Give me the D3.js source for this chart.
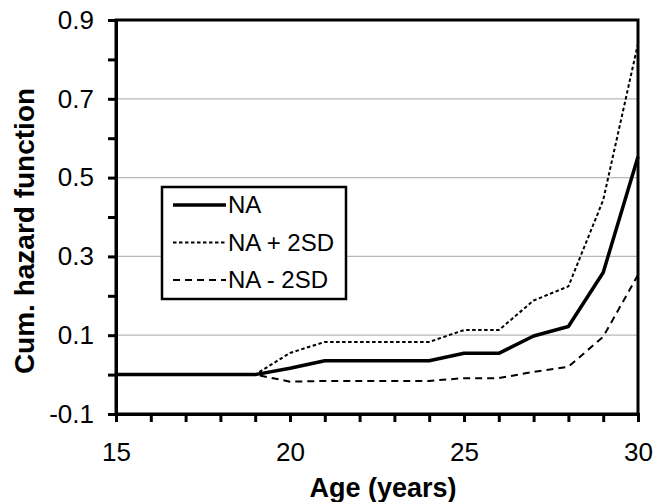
<!DOCTYPE html>
<html>
<head>
<meta charset="utf-8">
<script src="https://cdn.jsdelivr.net/npm/d3@7"></script>
<style>
  body { margin: 0; background: #fff; }
  text { font-family: "Liberation Sans", Arial, sans-serif; fill: #000; }
</style>
</head>
<body>
<div id="chart"></div>
<script>
// data
var ages = [15, 16, 17, 18, 19, 20, 21, 22, 23, 24, 25, 26, 27, 28, 29, 30];
var na = [0, 0, 0, 0, 0, 0.016, 0.035, 0.035, 0.035, 0.035, 0.054, 0.054, 0.098, 0.122, 0.259, 0.553];
var naPlus = [0, 0, 0, 0, 0, 0.055, 0.083, 0.083, 0.083, 0.083, 0.113, 0.113, 0.188, 0.224, 0.443, 0.84];
var naMinus = [0, 0, 0, 0, 0, -0.018, -0.016, -0.016, -0.016, -0.016, -0.009, -0.009, 0.007, 0.02, 0.096, 0.253];
var yLabels = [-0.1, 0.1, 0.3, 0.5, 0.7, 0.9];
var yMinor = [-0.1, 0, 0.1, 0.2, 0.3, 0.4, 0.5, 0.6, 0.7, 0.8, 0.9];
var xLabels = [15, 20, 25, 30];
var legendNames = ["NA", "NA + 2SD", "NA - 2SD"];

var width = 655, height = 502;
var plotLeft = 116, plotRight = 638, plotTop = 20, plotBottom = 414;

var svg = d3.select("#chart").append("svg")
    .attr("width", width)
    .attr("height", height);

var x = d3.scaleLinear().domain([15, 30]).range([plotLeft, plotRight]);
var y = d3.scaleLinear().domain([-0.1, 0.9]).range([plotBottom, plotTop]);

// gridlines
svg.append("g")
    .selectAll("line")
    .data(yLabels.filter(function(d){ return d > -0.1 && d < 0.9; }))
    .enter()
    .append("line")
    .attr("x1", plotLeft).attr("x2", plotRight)
    .attr("y1", function(d){ return y(d); })
    .attr("y2", function(d){ return y(d); })
    .attr("stroke", "#b8b8b8")
    .attr("stroke-width", 1.2);

// series
var line = d3.line()
    .x(function(d, i){ return x(ages[i]); })
    .y(function(d){ return y(d); });

var series = [
  { values: naMinus, width: 2, dash: "7,5" },
  { values: naPlus, width: 2, dash: "3.5,2.5" },
  { values: na, width: 3.5, dash: null }
];

svg.append("g")
    .selectAll("path")
    .data(series)
    .enter()
    .append("path")
    .attr("d", function(d){ return line(d.values); })
    .attr("fill", "none")
    .attr("stroke", "#000")
    .attr("stroke-width", function(d){ return d.width; })
    .attr("stroke-dasharray", function(d){ return d.dash; })
    .attr("stroke-linejoin", "round");

// plot frame
svg.append("rect")
    .attr("x", plotLeft).attr("y", plotTop)
    .attr("width", plotRight - plotLeft).attr("height", plotBottom - plotTop)
    .attr("fill", "none")
    .attr("stroke", "#000")
    .attr("stroke-width", 3);

// y axis
var yAxis = d3.axisLeft(y)
    .tickValues(yMinor)
    .tickSize(8)
    .tickFormat(function(d){
      var show = yLabels.some(function(v){ return Math.abs(v - d) < 1e-9; });
      return show ? d.toFixed(1) : "";
    });
var gy = svg.append("g").attr("transform", "translate(" + plotLeft + ",0)").call(yAxis);
gy.select(".domain").attr("stroke-width", 3);
gy.selectAll(".tick line").attr("stroke-width", 3);
gy.selectAll(".tick text")
    .attr("x", -22)
    .style("font-size", "26px")
    .style("font-family", "Liberation Sans, Arial, sans-serif");

// x axis
var xAxis = d3.axisBottom(x)
    .tickValues(ages)
    .tickSize(8)
    .tickFormat(function(d){ return xLabels.indexOf(d) >= 0 ? d : ""; });
var gx = svg.append("g").attr("transform", "translate(0," + plotBottom + ")").call(xAxis);
gx.select(".domain").attr("stroke-width", 3);
gx.selectAll(".tick line").attr("stroke-width", 3);
gx.selectAll(".tick text")
    .attr("y", 29)
    .style("font-size", "26px")
    .style("font-family", "Liberation Sans, Arial, sans-serif");

// axis titles
svg.append("text")
    .attr("x", (plotLeft + plotRight) / 2 + 6)
    .attr("y", 497)
    .attr("text-anchor", "middle")
    .style("font-size", "27px")
    .style("font-weight", "bold")
    .text("Age (years)");

svg.append("text")
    .attr("transform", "translate(34," + 231 + ") rotate(-90)")
    .attr("text-anchor", "middle")
    .style("font-size", "28px")
    .style("font-weight", "bold")
    .text("Cum. hazard function");

// legend
var legend = svg.append("g");
legend.append("rect")
    .attr("x", 162).attr("y", 187)
    .attr("width", 184).attr("height", 112)
    .attr("fill", "#fff")
    .attr("stroke", "#000")
    .attr("stroke-width", 2.5);

var legendSeries = [series[2], series[1], series[0]];
var rows = legend.selectAll("g.row")
    .data(legendNames)
    .enter()
    .append("g")
    .attr("class", "row")
    .attr("transform", function(d, i){ return "translate(0," + (205 + i * 37.5) + ")"; });

rows.append("line")
    .attr("x1", 173).attr("x2", 226)
    .attr("stroke", "#000")
    .attr("stroke-width", function(d, i){ return legendSeries[i].width; })
    .attr("stroke-dasharray", function(d, i){ return legendSeries[i].dash; });

rows.append("text")
    .attr("x", 228)
    .attr("dy", "0.35em")
    .style("font-size", "24px")
    .text(function(d){ return d; });
</script>
</body>
</html>
